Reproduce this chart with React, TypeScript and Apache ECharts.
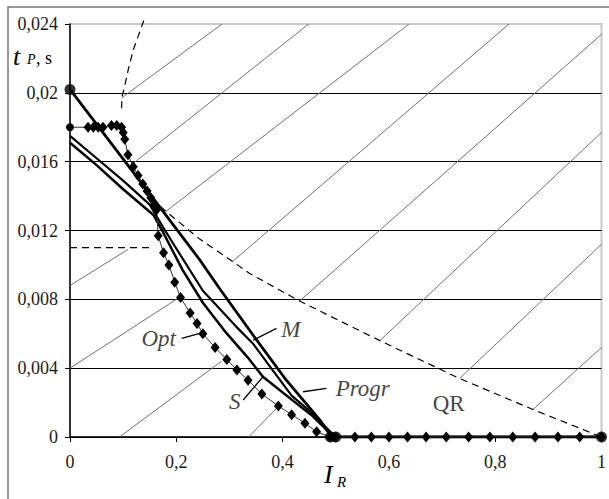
import React, { useEffect, useRef } from 'react';
import * as echarts from 'echarts';

// Tick labels
const xTickLabels = ['0', '0,2', '0,4', '0,6', '0,8', '1'];
const yTickLabels = ['0', '0,004', '0,008', '0,012', '0,016', '0,02', '0,024'];

// Opt (diamond markers)
const optX = [0, 0.034, 0.044, 0.053, 0.062, 0.078, 0.088, 0.097, 0.1, 0.103, 0.109, 0.119, 0.128, 0.137, 0.145, 0.152, 0.158, 0.163, 0.166, 0.176, 0.186, 0.197, 0.208, 0.226, 0.239, 0.25, 0.273, 0.295, 0.314, 0.335, 0.361, 0.392, 0.417, 0.442, 0.464, 0.489, 0.5, 0.536, 0.567, 0.6, 0.635, 0.67, 0.708, 0.75, 0.79, 0.833, 0.875, 0.918, 0.959, 1];
const optY = [0.018, 0.018, 0.018, 0.018, 0.018, 0.0181, 0.0181, 0.018, 0.0177, 0.0173, 0.0164, 0.0157, 0.0152, 0.0147, 0.0143, 0.0139, 0.0135, 0.0132, 0.0117, 0.0107, 0.01, 0.009, 0.0081, 0.0072, 0.0066, 0.006, 0.0052, 0.0045, 0.0039, 0.0033, 0.0025, 0.0018, 0.0013, 0.0008, 0.0003, 0, 0, 0, 0, 0, 0, 0, 0, 0, 0, 0, 0, 0, 0, 0];

// Progr
const progrX = [0, 0.163, 0.244, 0.282, 0.345, 0.407, 0.47, 0.492, 1];
const progrY = [0.0202, 0.0136, 0.0103, 0.0086, 0.0059, 0.0033, 0.001, 0, 0];

// M
const mX = [0, 0.05, 0.1, 0.15, 0.175, 0.197, 0.25, 0.313, 0.345, 0.376, 0.417, 0.451, 0.49, 0.5, 1];
const mY = [0.0175, 0.0162, 0.0149, 0.0135, 0.0122, 0.0111, 0.0085, 0.0064, 0.0054, 0.0041, 0.0024, 0.0015, 0.0003, 0, 0];

// S
const sX = [0, 0.05, 0.1, 0.157, 0.175, 0.212, 0.25, 0.29, 0.335, 0.363, 0.42, 0.457, 0.49, 0.5, 1];
const sY = [0.0171, 0.0158, 0.0144, 0.0129, 0.0119, 0.0097, 0.0078, 0.0062, 0.0046, 0.0035, 0.0021, 0.0012, 0.0002, 0, 0];

// Dashed boundary curves
const boundX = [0.17, 0.185, 0.244, 0.306, 0.338, 0.432, 0.583, 0.733, 0.871, 1];
const boundY = [0.0134, 0.013, 0.0115, 0.0102, 0.0095, 0.0079, 0.0056, 0.0034, 0.0016, 0];
const boundTopX = [0.097, 0.098, 0.103, 0.11, 0.119, 0.132, 0.141];
const boundTopY = [0.0191, 0.0198, 0.0204, 0.0214, 0.0225, 0.0236, 0.0244];
const levelX = [0, 0.15];
const levelY = [0.011, 0.011];

// Hatch segments [x1, y1, x2, y2]
const hatchSegs = [
  [0.097, 0.0197, 0.286, 0.024],
  [0.119, 0.0159, 0.449, 0.024],
  [0.18, 0.0131, 0.638, 0.024],
  [0.306, 0.0102, 0.826, 0.024],
  [0.432, 0.0079, 1.0, 0.0234],
  [0.583, 0.0056, 1.0, 0.0177],
  [0.733, 0.0034, 1.0, 0.0112],
  [0.871, 0.0016, 1.0, 0.0052],
  [0, 0.0088, 0.109, 0.0109],
  [0, 0.004, 0.2025, 0.00805],
  [0.093, 0, 0.285, 0.0044],
  [0.336, 0, 0.393, 0.0018],
];

// Big end points
const endX = [0, 0.49, 0.5, 1];
const endY = [0.0202, 0, 0, 0];

// Curve labels and leader segments
const labelNames = ['Opt', 'M', 'Progr', 'S', 'QR'];
const labelX = [0.167, 0.4154, 0.5508, 0.31, 0.7124];
const labelY = [0.00575, 0.00627, 0.00279, 0.00209, 0.00192];
const labelItalic = [true, true, true, true, false];
const leaderSegs = [
  [0.21, 0.00573, 0.2444, 0.00602],
  [0.3885, 0.00631, 0.3445, 0.00563],
  [0.4825, 0.00283, 0.4385, 0.00263],
  [0.3258, 0.00215, 0.3633, 0.0035],
];

const zip = (xs: number[], ys: number[]) => xs.map((x, i) => [x, ys[i]]);
const FONT = '"Liberation Serif", "Times New Roman", serif';

export default function App() {
  const ref = useRef<HTMLDivElement>(null);
  useEffect(() => {
    if (!ref.current) return;
    const chart = echarts.init(ref.current, undefined, { renderer: 'svg' });

    const hatchSeries = hatchSegs.map((s) => ({
      type: 'line',
      data: [[s[0], s[1]], [s[2], s[3]]],
      symbol: 'none',
      silent: true,
      z: 1,
      lineStyle: { color: '#707070', width: 1 },
    }));
    const leaderSeries = leaderSegs.map((s) => ({
      type: 'line',
      data: [[s[0], s[1]], [s[2], s[3]]],
      symbol: 'none',
      silent: true,
      z: 6,
      lineStyle: { color: '#000', width: 1.3 },
    }));
    const dashed = { color: '#000', width: 1.2, type: [7, 5] };

    const optData: any[] = zip(optX, optY).map((p, i) =>
      i === 0 ? { value: p, symbol: 'circle', symbolSize: 8 } : p
    );

    chart.setOption({
      animation: false,
      grid: {
        left: 70, right: 7, top: 24, bottom: 62,
        show: true, borderColor: '#c8c8c8', borderWidth: 2, backgroundColor: 'transparent',
      },
      xAxis: {
        type: 'value', min: 0, max: 1, interval: 0.2,
        axisLine: { show: true, onZero: false, lineStyle: { color: '#000', width: 1.5 } },
        axisTick: { show: true, inside: false, length: 5, lineStyle: { color: '#000' } },
        axisLabel: {
          formatter: (v: number) => xTickLabels[Math.round(v / 0.2)] ?? '',
          fontFamily: FONT, fontSize: 18, color: '#1a1a1a', margin: 16,
        },
        splitLine: { show: false },
      },
      yAxis: {
        type: 'value', min: 0, max: 0.024, interval: 0.004,
        axisLine: { show: true, onZero: false, lineStyle: { color: '#000', width: 1.5 } },
        axisTick: { show: true, inside: false, length: 5, lineStyle: { color: '#000' } },
        axisLabel: {
          formatter: (v: number) => yTickLabels[Math.round(v / 0.004)] ?? '',
          fontFamily: FONT, fontSize: 18, color: '#1a1a1a', margin: 12,
        },
        splitLine: { show: true, showMaxLine: false, lineStyle: { color: '#000', width: 1 } },
      },
      graphic: [
        { type: 'rect', shape: { x: 8, y: 7, width: 640, height: 540 }, style: { fill: 'none', stroke: '#7a7a7a', lineWidth: 1.5 }, silent: true },
        { type: 'text', x: 13, y: 56, style: { text: 't', font: `italic 26px ${FONT}`, fill: '#000', verticalAlign: 'middle' } },
        { type: 'text', x: 27, y: 59, style: { text: 'P', font: `italic 14px ${FONT}`, fill: '#000', verticalAlign: 'middle' } },
        { type: 'text', x: 36, y: 58, style: { text: ', s', font: `18px ${FONT}`, fill: '#000', verticalAlign: 'middle' } },
        { type: 'text', x: 324, y: 474, style: { text: 'I', font: `italic 26px ${FONT}`, fill: '#000', verticalAlign: 'middle' } },
        { type: 'text', x: 337, y: 482, style: { text: 'R', font: `italic 15px ${FONT}`, fill: '#000', verticalAlign: 'middle' } },
      ],
      series: [
        ...hatchSeries,
        { type: 'line', data: zip(levelX, levelY), symbol: 'none', silent: true, z: 2, lineStyle: dashed },
        { type: 'line', data: zip(boundX, boundY), symbol: 'none', silent: true, z: 2, lineStyle: dashed },
        { type: 'line', data: zip(boundTopX, boundTopY), symbol: 'none', silent: true, z: 2, clip: false, lineStyle: dashed },
        {
          name: 'Opt', type: 'line', data: optData, symbol: 'diamond', symbolSize: [9, 11], z: 5,
          itemStyle: { color: '#000' }, lineStyle: { color: '#333', width: 1 },
        },
        { name: 'S', type: 'line', data: zip(sX, sY), symbol: 'none', z: 4, lineStyle: { color: '#000', width: 2.5 } },
        { name: 'M', type: 'line', data: zip(mX, mY), symbol: 'none', z: 4, lineStyle: { color: '#000', width: 2.2 } },
        { name: 'Progr', type: 'line', data: zip(progrX, progrY), symbol: 'none', z: 4, lineStyle: { color: '#000', width: 2.8 } },
        { type: 'scatter', data: zip(endX, endY), symbol: 'circle', symbolSize: 11, z: 7, itemStyle: { color: '#000' } },
        ...leaderSeries,
        {
          type: 'scatter', z: 8, symbolSize: 0, silent: true,
          data: labelNames.map((n, i) => ({
            name: n,
            value: [labelX[i], labelY[i]],
            label: { fontStyle: labelItalic[i] ? 'italic' : 'normal' },
          })),
          label: {
            show: true, position: 'inside', formatter: (p: any) => p.name,
            fontFamily: FONT, fontSize: 23, color: '#111',
          },
        },
      ],
    });
    return () => chart.dispose();
  }, []);

  return (
    <div
      ref={ref}
      style={{ position: 'absolute', left: 0, top: 0, width: 609, height: 499, background: '#fff' }}
    />
  );
}
